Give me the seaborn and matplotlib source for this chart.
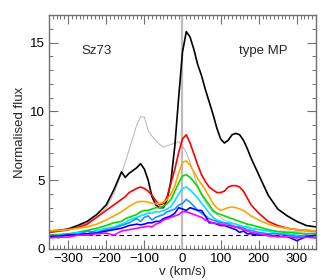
import numpy as np
import pandas as pd
import matplotlib
matplotlib.use("Agg")
import matplotlib.pyplot as plt
import seaborn as sns
from matplotlib.ticker import MultipleLocator

# velocity grid (km/s)
velocity = [-350, -325, -300, -275, -250, -225, -200, -180, -160, -150, -140, -120, -110,
            -100, -90, -80, -70, -60, -50, -40, -30, -20, -10, 0, 10, 20, 30, 40, 50, 60,
            70, 80, 90, 100, 110, 120, 130, 140, 150, 160, 170, 180, 200, 225, 250, 275,
            300, 325, 350]

flux_gray = [1.2, 1.25, 1.35, 1.6, 1.9, 2.3, 3.0, 4.0, 5.5, 6.3, 7.2, 9.0, 9.6,
             9.6, 8.6, 8.2, 7.9, 7.6, 7.4, 7.5, 7.6, 7.7, 7.8, 7.5, 7.0, 6.3, 5.4, 4.6, 3.9, 3.4,
             3.0, 2.7, 2.5, 2.3, 2.1, 2.0, 1.9, 1.8, 1.7, 1.6, 1.55, 1.5, 1.4, 1.35, 1.3, 1.3,
             1.25, 1.25, 1.2]
flux_black = [1.3, 1.35, 1.45, 1.7, 2.0, 2.5, 3.2, 4.3, 5.6, 5.2, 5.5, 5.9, 6.2,
              5.8, 5.0, 3.8, 3.2, 3.0, 3.0, 3.6, 5.0, 7.5, 11.0, 14.3, 15.8, 15.4, 14.5, 13.4, 12.6, 11.6,
              10.7, 9.8, 8.8, 8.0, 7.7, 7.9, 8.3, 8.4, 8.3, 7.9, 7.3, 6.6, 5.4, 3.9, 2.9, 2.4,
              2.0, 1.7, 1.6]
flux_red = [1.2, 1.3, 1.4, 1.55, 1.8, 2.3, 2.8, 3.2, 3.6, 3.8, 4.1, 4.4, 4.5,
            4.4, 4.2, 3.9, 3.5, 3.2, 3.3, 3.8, 4.8, 5.8, 7.0, 8.0, 8.3, 7.7, 6.9, 6.1, 5.4, 4.9,
            4.5, 4.3, 4.1, 4.1, 4.2, 4.5, 4.6, 4.6, 4.5, 4.2, 3.7, 3.2, 2.6, 2.0, 1.7, 1.5,
            1.4, 1.35, 1.3]
flux_orange = [1.3, 1.35, 1.4, 1.5, 1.6, 1.8, 2.1, 2.4, 2.7, 2.9, 3.1, 3.4, 3.45,
               3.45, 3.4, 3.3, 3.3, 3.3, 3.4, 3.6, 4.0, 4.6, 5.5, 6.3, 6.4, 6.1, 5.6, 5.1, 4.7, 4.3,
               3.8, 3.3, 3.0, 2.8, 2.9, 3.0, 3.05, 3.0, 2.9, 2.8, 2.6, 2.4, 2.1, 1.8, 1.6, 1.5,
               1.4, 1.35, 1.3]
flux_green = [1.0, 1.05, 1.1, 1.2, 1.35, 1.5, 1.7, 1.9, 2.0, 2.2, 2.3, 2.5, 2.7,
              2.8, 2.8, 2.9, 3.0, 3.0, 3.1, 3.3, 3.6, 4.2, 4.8, 5.3, 5.4, 5.2, 4.9, 4.5, 4.0, 3.6,
              3.2, 2.8, 2.6, 2.5, 2.4, 2.3, 2.2, 2.1, 2.0, 1.9, 1.8, 1.75, 1.6, 1.4, 1.25, 1.2,
              1.15, 1.1, 1.1]
flux_cyan = [0.9, 1.0, 1.05, 1.2, 1.1, 1.35, 1.5, 1.6, 1.8, 1.9, 2.1, 2.3, 2.4,
             2.5, 2.6, 2.6, 2.7, 2.7, 2.8, 2.9, 3.1, 3.5, 4.0, 4.4, 4.5, 4.3, 4.0, 3.7, 3.3, 3.0,
             2.6, 2.3, 2.1, 2.0, 1.9, 1.9, 1.85, 1.8, 1.7, 1.6, 1.6, 1.5, 1.4, 1.3, 1.1, 1.1,
             1.0, 0.9, 0.9]
flux_azure = [1.0, 0.8, 1.1, 1.0, 1.3, 1.2, 1.4, 1.5, 1.7, 1.8, 1.9, 2.2, 2.0,
              2.3, 2.4, 2.1, 2.3, 2.4, 2.5, 2.7, 2.8, 2.9, 3.2, 3.3, 3.6, 3.4, 3.1, 2.8, 2.6, 2.4,
              2.2, 2.1, 2.0, 1.9, 1.9, 1.8, 1.7, 1.6, 1.6, 1.5, 1.4, 1.35, 1.2, 1.1, 1.1, 1.0,
              0.9, 1.0, 0.8]
flux_blue = [0.9, 0.95, 1.0, 1.05, 1.1, 1.15, 1.3, 1.4, 1.5, 1.6, 1.7, 1.8, 1.75,
             1.8, 1.9, 1.9, 2.0, 2.0, 2.2, 2.3, 2.4, 2.6, 3.0, 2.9, 2.8, 3.0, 2.9, 2.8, 2.8, 2.4,
             1.9, 1.9, 1.8, 1.7, 1.7, 1.6, 1.5, 1.4, 1.2, 1.3, 1.1, 1.1, 1.0, 1.0, 0.9, 0.9,
             0.6, 0.9, 1.0]
flux_magenta = [0.8, 0.85, 0.85, 1.0, 1.0, 1.1, 1.15, 1.0, 1.3, 1.35, 1.4, 1.5, 1.55,
                1.6, 1.65, 1.6, 1.8, 1.9, 2.1, 2.2, 2.3, 2.4, 2.5, 2.7, 2.7, 2.6, 2.5, 2.4, 2.3, 2.1,
                2.0, 1.9, 1.85, 1.8, 1.75, 1.7, 1.65, 1.6, 1.5, 1.4, 1.3, 1.2, 1.1, 0.95, 0.9, 0.9,
                0.8, 0.85, 0.8]

series = {
    'gray': flux_gray, 'black': flux_black, 'red': flux_red, 'orange': flux_orange,
    'green': flux_green, 'cyan': flux_cyan, 'azure': flux_azure, 'blue': flux_blue,
    'magenta': flux_magenta,
}
PALETTE = {
    'gray': '#b4b4b4', 'black': '#000000', 'red': '#ff0000', 'orange': '#ffa500',
    'green': '#00dd00', 'cyan': '#00e5ff', 'azure': '#2090ff', 'blue': '#0000ff',
    'magenta': '#ff00ff',
}

df = pd.concat([pd.DataFrame({'v': velocity, 'flux': vals, 'spec': name})
                for name, vals in series.items()], ignore_index=True)

sns.set_theme(style="ticks")
plt.rcParams['font.family'] = ['Liberation Sans', 'DejaVu Sans']
plt.rcParams['axes.linewidth'] = 1.0

fig = plt.figure(figsize=(3.27, 2.80), dpi=100)
ax = fig.add_axes([0.150, 0.111, 0.816, 0.835])

ax.axvline(0, color='#bdbdbd', lw=1.6, zorder=1)
ax.axhline(1, color='black', lw=0.8, ls=(0, (4, 3)), zorder=1)

for name in series:
    sub = df[df['spec'] == name]
    sns.lineplot(data=sub, x='v', y='flux', color=PALETTE[name], sort=False,
                 lw=0.7 if name == 'gray' else 1.2, ax=ax, zorder=2)

ax.set_xlim(-350, 350)
ax.set_ylim(0, 17)
ax.xaxis.set_major_locator(MultipleLocator(100))
ax.xaxis.set_minor_locator(MultipleLocator(10))
ax.yaxis.set_major_locator(MultipleLocator(5))
ax.yaxis.set_minor_locator(MultipleLocator(1))
ax.tick_params(which='both', direction='in', top=True, right=True, labelsize=9.5,
               color='#707070', labelcolor='black')
ax.tick_params(which='major', length=6.5, width=0.8, pad=3)
ax.tick_params(which='minor', length=3.2, width=0.7)
for s in ax.spines.values():
    s.set_color('#707070')

ax.set_xlabel('v (km/s)', fontsize=9.5, labelpad=1)
ax.set_ylabel('Normalised flux', fontsize=9.5, labelpad=3)

ax.text(-265, 14.4, 'Sz73', fontsize=9.5, va='center', ha='left')
ax.text(275, 14.4, 'type MP', fontsize=9.5, va='center', ha='right')

fig.savefig('out.png', dpi=100)
